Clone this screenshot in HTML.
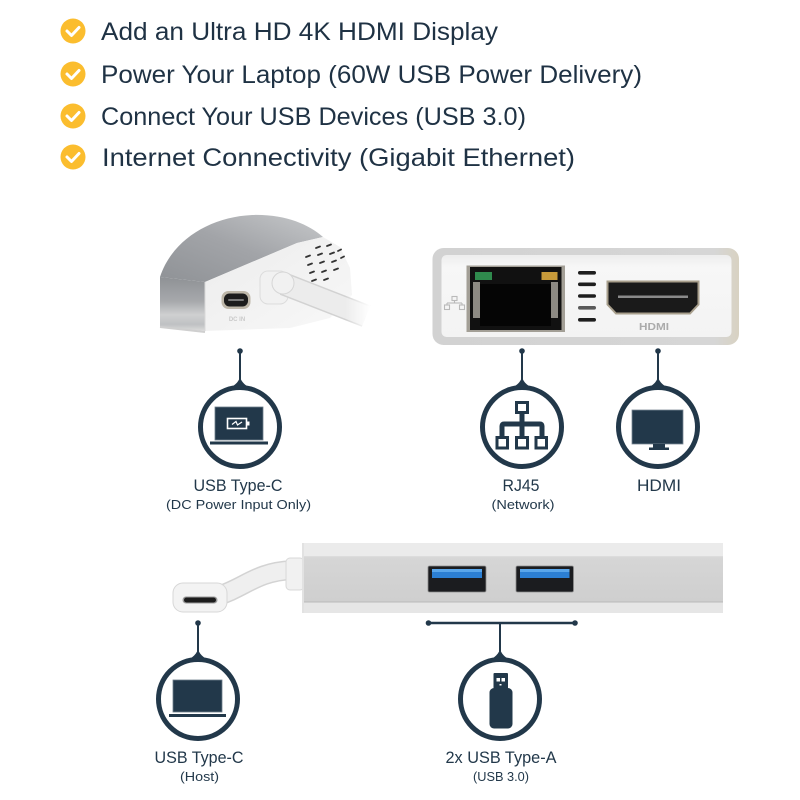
<!DOCTYPE html>
<html><head><meta charset="utf-8">
<style>
html,body{margin:0;padding:0;background:#fff;}
svg{display:block;}
text{font-family:"Liberation Sans",sans-serif;}
</style></head><body>
<svg width="800" height="800" viewBox="0 0 800 800" xmlns="http://www.w3.org/2000/svg">
<defs>
  <linearGradient id="gtop" x1="0" y1="1" x2="1" y2="0">
    <stop offset="0" stop-color="#8f9296"/><stop offset="0.5" stop-color="#a2a4a8"/><stop offset="1" stop-color="#c6c8ca"/>
  </linearGradient>
  <linearGradient id="gside" x1="0" y1="0" x2="0" y2="1">
    <stop offset="0" stop-color="#8e9195"/><stop offset="0.45" stop-color="#a7a9ac"/><stop offset="0.7" stop-color="#cfd0d1"/><stop offset="0.88" stop-color="#bfc1c3"/><stop offset="1" stop-color="#dcdcdc"/>
  </linearGradient>
  <linearGradient id="gface" x1="0" y1="0" x2="1" y2="1">
    <stop offset="0" stop-color="#ececec"/><stop offset="1" stop-color="#f8f8f8"/>
  </linearGradient>
  <linearGradient id="grim" x1="0" y1="0" x2="1" y2="0">
    <stop offset="0" stop-color="#d2d2d2"/><stop offset="0.92" stop-color="#d6d6d6"/><stop offset="1" stop-color="#d8d2c2"/>
  </linearGradient>
  <linearGradient id="ginner" x1="0" y1="0" x2="0" y2="1">
    <stop offset="0" stop-color="#ededed"/><stop offset="0.15" stop-color="#f7f7f7"/><stop offset="1" stop-color="#f3f3f3"/>
  </linearGradient>
  <linearGradient id="gbar" x1="0" y1="0" x2="0" y2="1">
    <stop offset="0" stop-color="#d8d8d8"/><stop offset="1" stop-color="#cdcdcd"/>
  </linearGradient>
  <linearGradient id="gcablefade" x1="0" y1="0" x2="1" y2="0">
    <stop offset="0" stop-color="#ffffff" stop-opacity="0"/><stop offset="1" stop-color="#ffffff" stop-opacity="1"/>
  </linearGradient>
</defs>

<!-- Bullets -->
<g>
  <circle cx="73" cy="31" r="12.5" fill="#fbbd2e"/>
  <polyline points="67,31 71.5,35.5 79,27.5" fill="none" stroke="#fff" stroke-width="3" stroke-linecap="round" stroke-linejoin="round"/>
  <circle cx="73" cy="74" r="12.5" fill="#fbbd2e"/>
  <polyline points="67,74 71.5,78.5 79,70.5" fill="none" stroke="#fff" stroke-width="3" stroke-linecap="round" stroke-linejoin="round"/>
  <circle cx="73" cy="116" r="12.5" fill="#fbbd2e"/>
  <polyline points="67,116 71.5,120.5 79,112.5" fill="none" stroke="#fff" stroke-width="3" stroke-linecap="round" stroke-linejoin="round"/>
  <circle cx="73" cy="157" r="12.5" fill="#fbbd2e"/>
  <polyline points="67,157 71.5,161.5 79,153.5" fill="none" stroke="#fff" stroke-width="3" stroke-linecap="round" stroke-linejoin="round"/>

  <text x="101" y="40" font-size="25" fill="#1f3244" textLength="397" lengthAdjust="spacingAndGlyphs">Add an Ultra HD 4K HDMI Display</text>
  <text x="101" y="83" font-size="25" fill="#1f3244" textLength="541" lengthAdjust="spacingAndGlyphs">Power Your Laptop (60W USB Power Delivery)</text>
  <text x="101" y="125" font-size="25" fill="#1f3244" textLength="425" lengthAdjust="spacingAndGlyphs">Connect Your USB Devices (USB 3.0)</text>
  <text x="102" y="166" font-size="25" fill="#1f3244" textLength="473" lengthAdjust="spacingAndGlyphs">Internet Connectivity (Gigabit Ethernet)</text>
</g>

<!-- Top-left photo -->
<g>
  <!-- top surface -->
  <path d="M160,277 C172,240 210,217 252,215 C285,214 308,224 323,237 L297,243 L205,282 Z" fill="url(#gtop)"/>
  <!-- left side -->
  <path d="M160,277 L205,282 L205,331 L160,327 Z" fill="url(#gside)"/>
  <!-- front + right face -->
  <path d="M205,282 L297,243 L323,237 L340,247 L350,268 L352,295 L330,318 L290,328 L205,331 Z" fill="url(#gface)"/>
  <line x1="205" y1="282" x2="205" y2="331" stroke="#d9d9d9" stroke-width="1"/>
  <line x1="160" y1="327" x2="205" y2="332" stroke="#cfcfcf" stroke-width="2"/>
  <!-- vents -->
  <g stroke="#333" stroke-width="1.8" stroke-linecap="round">
    <line x1="316" y1="248" x2="320" y2="246.5"/><line x1="327" y1="246" x2="331" y2="244.5"/><line x1="338" y1="251" x2="341" y2="249.5"/>
    <line x1="306" y1="257" x2="310" y2="255.5"/><line x1="318" y1="255" x2="322" y2="253.5"/><line x1="330" y1="254" x2="334" y2="252.5"/><line x1="341" y1="258" x2="344" y2="256.5"/>
    <line x1="308" y1="265" x2="312" y2="263.5"/><line x1="320" y1="263" x2="324" y2="261.5"/><line x1="332" y1="262" x2="336" y2="260.5"/>
    <line x1="310" y1="273" x2="314" y2="271.5"/><line x1="322" y1="272" x2="326" y2="270.5"/><line x1="334" y1="270" x2="338" y2="268.5"/>
    <line x1="312" y1="281" x2="316" y2="279.5"/><line x1="324" y1="280" x2="328" y2="278.5"/>
  </g>
  <!-- USB-C port -->
  <rect x="221.5" y="291" width="29" height="18" rx="7" fill="#bdb6a8"/>
  <rect x="224" y="293.5" width="24" height="13" rx="5.5" fill="#1c1c1c"/>
  <rect x="228" y="299" width="16" height="2" rx="1" fill="#777"/>
  <text x="237" y="321" font-size="6" font-weight="bold" fill="#c9c9c9" text-anchor="middle">DC IN</text>
  <!-- boss -->
  <rect x="260" y="271" width="28" height="33" rx="8" fill="#f1f1f1" stroke="#dcdcdc" stroke-width="1"/>
  <!-- cable -->
  <line x1="284" y1="284" x2="366" y2="316" stroke="#d2d2d2" stroke-width="23" stroke-linecap="butt"/>
  <line x1="284" y1="284" x2="366" y2="316" stroke="#ececec" stroke-width="20" stroke-linecap="butt"/>
  <ellipse cx="283" cy="283" rx="11" ry="11" fill="#f1f1f1" stroke="#d6d6d6" stroke-width="1"/>
  <rect x="345" y="295" width="25" height="40" fill="url(#gcablefade)"/>
</g>

<!-- Top-right photo -->
<g>
  <rect x="432.5" y="248" width="306.5" height="97" rx="11" fill="url(#grim)"/>
  <rect x="441.5" y="255" width="290" height="82" rx="5" fill="url(#ginner)"/>
  <!-- small network icon -->
  <g fill="none" stroke="#b9b9b9" stroke-width="1.1">
    <rect x="452" y="296.5" width="5" height="4"/>
    <line x1="454.5" y1="300.5" x2="454.5" y2="303"/>
    <line x1="447" y1="303" x2="462" y2="303"/>
    <line x1="447" y1="303" x2="447" y2="305"/>
    <line x1="462" y1="303" x2="462" y2="305"/>
    <rect x="444.5" y="305" width="5" height="4.5"/>
    <rect x="459.5" y="305" width="5" height="4.5"/>
  </g>
  <!-- RJ45 -->
  <rect x="466.5" y="265.5" width="98.5" height="66.5" fill="#a39f96"/>
  <path d="M470,267 L561.5,267 L561.5,330 L470,330 Z" fill="#111"/>
  <rect x="475" y="272" width="17" height="8" fill="#2f8a4d"/>
  <rect x="541.5" y="272" width="16" height="8" fill="#c79a3a"/>
  <rect x="473" y="282" width="7" height="36" fill="#8d8a83"/>
  <rect x="551" y="282" width="7" height="36" fill="#8d8a83"/>
  <rect x="480" y="284" width="71" height="42" fill="#050505"/>
  <!-- vents -->
  <g fill="#1e1e1e">
    <rect x="578" y="271" width="18" height="3.6" rx="1.8"/>
    <rect x="578" y="282.5" width="18" height="3.6" rx="1.8"/>
    <rect x="578" y="294.2" width="18" height="3.6" rx="1.8"/>
    <rect x="578" y="306" width="18" height="3.6" rx="1.8" fill="#5a5a5a"/>
    <rect x="578" y="318" width="18" height="3.6" rx="1.8"/>
  </g>
  <!-- HDMI port -->
  <path d="M607.5,281.5 L698.5,281.5 L698.5,304.5 L690,313.5 L616,313.5 L607.5,304.5 Z" fill="#1a1a1a" stroke="#a89f8c" stroke-width="2"/>
  <rect x="618" y="295.5" width="70" height="2.5" fill="#8a8a8a"/>
  <text x="654" y="330" font-size="10.5" font-weight="bold" fill="#ababab" text-anchor="middle" textLength="30" lengthAdjust="spacingAndGlyphs">HDMI</text>
</g>

<!-- Connector circles row 1 -->
<g fill="#22384a" stroke="none">
  <line x1="240" y1="351" x2="240" y2="385" stroke="#22384a" stroke-width="2"/>
  <circle cx="240" cy="351" r="2.8"/>
  <path d="M223,392 C232,387 238,384 240,377 C242,384 248,387 257,392 Z"/>
  <circle cx="240" cy="427" r="39.5" fill="#fff" stroke="#22384a" stroke-width="5"/>

  <line x1="522" y1="351" x2="522" y2="385" stroke="#22384a" stroke-width="2"/>
  <circle cx="522" cy="351" r="2.8"/>
  <path d="M505,392 C514,387 520,384 522,377 C524,384 530,387 539,392 Z"/>
  <circle cx="522" cy="427" r="39.5" fill="#fff" stroke="#22384a" stroke-width="5"/>

  <line x1="658" y1="351" x2="658" y2="385" stroke="#22384a" stroke-width="2"/>
  <circle cx="658" cy="351" r="2.8"/>
  <path d="M641,392 C650,387 656,384 658,377 C660,384 666,387 675,392 Z"/>
  <circle cx="658" cy="427" r="39.5" fill="#fff" stroke="#22384a" stroke-width="5"/>
</g>

<!-- Icon A: laptop with battery -->
<g>
  <rect x="215" y="407" width="48" height="33" fill="#22384a" stroke="#6e7e8b" stroke-width="0.8"/>
  <rect x="210" y="441.5" width="58" height="3" fill="#22384a"/>
  <rect x="227.5" y="418.5" width="19" height="10" fill="none" stroke="#fff" stroke-width="1.6"/>
  <rect x="246.5" y="421.5" width="3" height="4" fill="#fff"/>
  <polyline points="232,424.5 236,421.5 237.5,425 242,422" fill="none" stroke="#fff" stroke-width="1.2"/>
</g>

<!-- Icon B: network -->
<g fill="none" stroke="#22384a">
  <rect x="516.5" y="402.5" width="11" height="10" stroke-width="3"/>
  <line x1="522" y1="414" x2="522" y2="436" stroke-width="5"/>
  <path d="M502,436 L502,426 Q502,424 504,424 L540,424 Q542,424 542,426 L542,436" stroke-width="5"/>
  <rect x="497" y="437.5" width="10.5" height="10.5" stroke-width="3"/>
  <rect x="516.5" y="437.5" width="11" height="10.5" stroke-width="3"/>
  <rect x="536" y="437.5" width="10.5" height="10.5" stroke-width="3"/>
</g>

<!-- Icon C: monitor -->
<g>
  <rect x="632" y="410" width="51" height="34" fill="#22384a" stroke="#7a8894" stroke-width="0.8"/>
  <rect x="653" y="444" width="12" height="4" fill="#22384a"/>
  <rect x="649" y="447.5" width="20" height="2.5" fill="#22384a"/>
</g>

<!-- Row 1 labels -->
<g fill="#22384a" text-anchor="middle">
  <text x="238" y="491" font-size="17" textLength="89" lengthAdjust="spacingAndGlyphs">USB Type-C</text>
  <text x="238.5" y="509" font-size="13" textLength="145" lengthAdjust="spacingAndGlyphs">(DC Power Input Only)</text>
  <text x="521" y="491" font-size="17" textLength="37" lengthAdjust="spacingAndGlyphs">RJ45</text>
  <text x="523" y="509" font-size="13" textLength="63" lengthAdjust="spacingAndGlyphs">(Network)</text>
  <text x="659" y="491" font-size="17" textLength="44" lengthAdjust="spacingAndGlyphs">HDMI</text>
</g>

<!-- Bottom device -->
<g>
  <path d="M215,597 C245,588 255,572 292,570" fill="none" stroke="#d3d3d3" stroke-width="20"/>
  <path d="M215,597 C245,588 255,572 292,570" fill="none" stroke="#efefef" stroke-width="17"/>
  <rect x="173" y="583" width="54" height="29" rx="10" fill="#f3f3f3" stroke="#d7d7d7" stroke-width="1"/>
  <rect x="182.5" y="596.5" width="35" height="7" rx="3.5" fill="#9a9a9a"/>
  <rect x="184" y="597.5" width="32" height="5" rx="2.5" fill="#1c1c1c"/>
  <rect x="286" y="558" width="18" height="32" rx="4" fill="#f1f1f1" stroke="#d8d8d8" stroke-width="1"/>
  <path d="M302,543 L719,543 Q723,543 723,547 L723,609 Q723,613 719,613 L302,613 Z" fill="url(#gbar)"/>
  <rect x="302" y="543" width="421" height="13" fill="#ebebeb"/>
  <rect x="302" y="556" width="421" height="1.2" fill="#dcdcdc"/>
  <rect x="302" y="602" width="421" height="11" fill="#e6e6e6"/>
  <rect x="302" y="601.5" width="421" height="1" fill="#b9b9b9"/>
  <rect x="302" y="543" width="2" height="70" fill="#e2e2e2"/>
  <rect x="428" y="566" width="58" height="26" rx="1.5" fill="#1b1c1f" stroke="#8c8c8c" stroke-width="0.8"/>
  <rect x="432" y="569" width="50" height="9" fill="#2c7fd3"/>
  <rect x="432" y="569" width="50" height="3" fill="#5aa6ea"/>
  <rect x="516" y="566" width="57.5" height="26" rx="1.5" fill="#1b1c1f" stroke="#8c8c8c" stroke-width="0.8"/>
  <rect x="520" y="569" width="49.5" height="9" fill="#2c7fd3"/>
  <rect x="520" y="569" width="49.5" height="3" fill="#5aa6ea"/>
</g>

<!-- Row 2 connectors -->
<g fill="#22384a">
  <line x1="198" y1="623" x2="198" y2="657" stroke="#22384a" stroke-width="2"/>
  <circle cx="198" cy="623" r="2.8"/>
  <path d="M181,664 C190,659 196,656 198,649 C200,656 206,659 215,664 Z"/>
  <circle cx="198" cy="699" r="39.5" fill="#fff" stroke="#22384a" stroke-width="5"/>

  <line x1="428.5" y1="623" x2="575" y2="623" stroke="#22384a" stroke-width="2.5"/>
  <circle cx="428.5" cy="623" r="2.8"/>
  <circle cx="575" cy="623" r="2.8"/>
  <line x1="500" y1="623" x2="500" y2="657" stroke="#22384a" stroke-width="2"/>
  <path d="M483,664 C492,659 498,656 500,649 C502,656 508,659 517,664 Z"/>
  <circle cx="500" cy="699" r="39.5" fill="#fff" stroke="#22384a" stroke-width="5"/>
</g>

<!-- Icon D: laptop -->
<g fill="#22384a">
  <rect x="173" y="680" width="49" height="32" stroke="#6e7e8b" stroke-width="0.8"/>
  <rect x="169" y="714" width="57" height="3"/>
</g>

<!-- Icon E: USB stick -->
<g>
  <rect x="493.5" y="673" width="14.5" height="16" rx="1" fill="#22384a"/>
  <rect x="496.5" y="678" width="3.5" height="3.5" fill="#fff"/>
  <rect x="501.5" y="678" width="3.5" height="3.5" fill="#fff"/>
  <rect x="499.5" y="684" width="2" height="1.5" fill="#fff"/>
  <rect x="489.5" y="688" width="23" height="40.5" rx="4.5" fill="#22384a"/>
</g>

<!-- Row 2 labels -->
<g fill="#22384a" text-anchor="middle">
  <text x="199" y="763" font-size="17" textLength="89" lengthAdjust="spacingAndGlyphs">USB Type-C</text>
  <text x="199.5" y="781" font-size="13" textLength="39" lengthAdjust="spacingAndGlyphs">(Host)</text>
  <text x="501" y="763" font-size="17" textLength="111" lengthAdjust="spacingAndGlyphs">2x USB Type-A</text>
  <text x="501" y="781" font-size="13" textLength="56" lengthAdjust="spacingAndGlyphs">(USB 3.0)</text>
</g>
</svg>
</body></html>
